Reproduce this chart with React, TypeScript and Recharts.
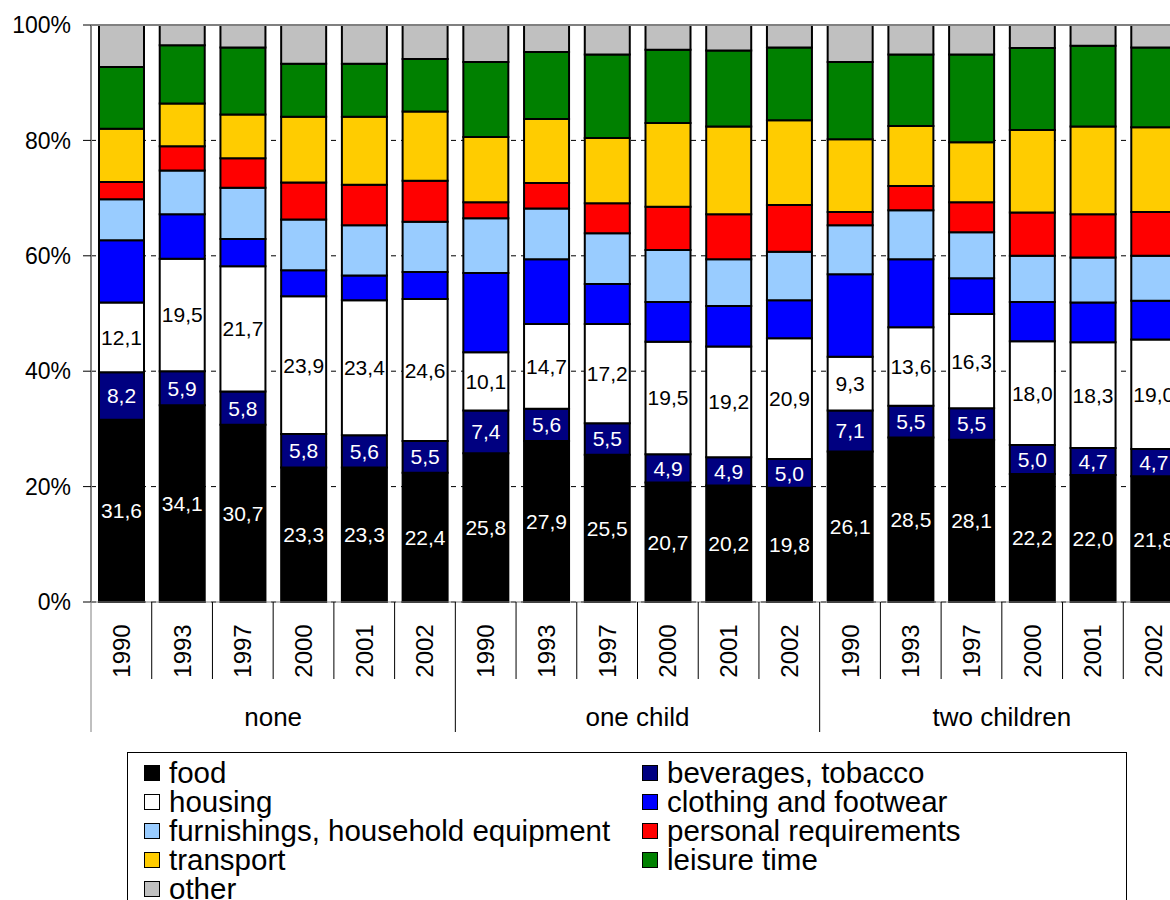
import {
  BarChart,
  Bar,
  XAxis,
  YAxis,
  CartesianGrid,
  LabelList,
  ReferenceLine,
} from "recharts";

const FONT = "'Liberation Sans', Arial, Helvetica, sans-serif";

const years = [
  "1990", "1993", "1997", "2000", "2001", "2002",
  "1990", "1993", "1997", "2000", "2001", "2002",
  "1990", "1993", "1997", "2000", "2001", "2002",
];
const groupNames = ["none", "one child", "two children"];
const yTicks = [0, 0.2, 0.4, 0.6, 0.8, 1];

// shares in % per household type and year
const food = [31.6, 34.1, 30.7, 23.3, 23.3, 22.4, 25.8, 27.9, 25.5, 20.7, 20.2, 19.8, 26.1, 28.5, 28.1, 22.2, 22.0, 21.8];
const beverages = [8.2, 5.9, 5.8, 5.8, 5.6, 5.5, 7.4, 5.6, 5.5, 4.9, 4.9, 5.0, 7.1, 5.5, 5.5, 5.0, 4.7, 4.7];
const housing = [12.1, 19.5, 21.7, 23.9, 23.4, 24.6, 10.1, 14.7, 17.2, 19.5, 19.2, 20.9, 9.3, 13.6, 16.3, 18.0, 18.3, 19.0];
const clothing = [10.8, 7.7, 4.7, 4.5, 4.3, 4.7, 13.7, 11.2, 6.9, 6.9, 7.0, 6.6, 14.3, 11.8, 6.2, 6.8, 6.9, 6.7];
const furnishings = [7.1, 7.6, 8.9, 8.8, 8.7, 8.7, 9.5, 8.8, 8.8, 9.0, 8.1, 8.4, 8.5, 8.5, 8.0, 8.0, 7.8, 7.8];
const personal = [3.0, 4.2, 5.1, 6.4, 7.0, 7.1, 2.8, 4.4, 5.2, 7.5, 7.8, 8.1, 2.3, 4.2, 5.2, 7.5, 7.5, 7.6];
const transport = [9.2, 7.4, 7.6, 11.4, 11.8, 12.0, 11.3, 11.1, 11.3, 14.5, 15.2, 14.7, 12.6, 10.4, 10.4, 14.3, 15.2, 14.7];
const leisure = [10.7, 10.1, 11.6, 9.2, 9.2, 9.1, 13.0, 11.6, 14.5, 12.7, 13.2, 12.6, 13.4, 12.4, 15.2, 14.2, 14.0, 13.8];
const other = [7.3, 3.5, 3.9, 6.7, 6.7, 5.9, 6.4, 4.7, 5.1, 4.3, 4.4, 3.9, 6.4, 5.1, 5.1, 4.0, 3.6, 3.9];

const series = [
  { key: "food", name: "food", color: "#000000", values: food, labelColor: "#ffffff" },
  { key: "beverages", name: "beverages, tobacco", color: "#000080", values: beverages, labelColor: "#ffffff" },
  { key: "housing", name: "housing", color: "#ffffff", values: housing, labelColor: "#000000" },
  { key: "clothing", name: "clothing and footwear", color: "#0000ff", values: clothing, labelColor: null },
  { key: "furnishings", name: "furnishings, household equipment", color: "#99ccff", values: furnishings, labelColor: null },
  { key: "personal", name: "personal requirements", color: "#ff0000", values: personal, labelColor: null },
  { key: "transport", name: "transport", color: "#ffcc00", values: transport, labelColor: null },
  { key: "leisure", name: "leisure time", color: "#008000", values: leisure, labelColor: null },
  { key: "other", name: "other", color: "#c0c0c0", values: other, labelColor: null },
];

const data = years.map((year, i) => {
  const row: Record<string, string | number> = {
    id: `${groupNames[Math.floor(i / 6)]} ${year}`,
    year,
  };
  series.forEach((s) => {
    row[s.key] = s.values[i];
  });
  return row;
});

const CHART_W = 1200;
const CHART_H = 900;
const MARGIN = { top: 25, right: 16, left: 11, bottom: 168 };
const Y_AXIS_W = 80;
const PLOT_W = CHART_W - MARGIN.left - MARGIN.right - Y_AXIS_W;

function YearTick(props: any) {
  const { x, y } = props;
  const i: number = props.index ?? props.payload?.index ?? 0;
  const step = PLOT_W / years.length;
  const left = x - step / 2;
  const groupStart = i % 6 === 0;
  return (
    <g>
      <line
        x1={left}
        x2={left}
        y1={y}
        y2={y + (groupStart ? 130 : 77)}
        stroke={i === 0 ? "#808080" : "#000000"}
        strokeWidth={1}
      />
      <text
        x={x}
        y={y + 49}
        transform={`rotate(-90 ${x} ${y + 49})`}
        textAnchor="middle"
        dominantBaseline="central"
        fontSize={24}
        fontFamily={FONT}
        fill="#000"
      >
        {years[i]}
      </text>
      {groupStart && (
        <text
          x={left + step * 3}
          y={y + 115}
          textAnchor="middle"
          dominantBaseline="central"
          fontSize={26}
          fontFamily={FONT}
          fill="#000"
        >
          {groupNames[i / 6]}
        </text>
      )}
    </g>
  );
}

const fmt = (v: any) => Number(v).toFixed(1).replace(".", ",");

export default function App() {
  return (
    <div
      style={{
        position: "fixed",
        left: 0,
        top: 0,
        width: 1170,
        height: 900,
        overflow: "hidden",
        background: "#fff",
        fontFamily: FONT,
      }}
    >
      <BarChart
        width={CHART_W}
        height={CHART_H}
        data={data}
        margin={MARGIN}
        stackOffset="expand"
        barSize={45}
      >
        <CartesianGrid vertical={false} stroke="#000" strokeDasharray="5 5" />
        <XAxis
          dataKey="id"
          interval={0}
          height={130}
          tickLine={false}
          tickSize={0}
          tickMargin={0}
          axisLine={{ stroke: "#808080" }}
          tick={<YearTick />}
        />
        <YAxis
          type="number"
          domain={[0, 1]}
          ticks={yTicks}
          width={Y_AXIS_W}
          tickFormatter={(v: number) => `${Math.round(v * 100)}%`}
          axisLine={{ stroke: "#808080", strokeWidth: 2 }}
          tickLine={{ stroke: "#000" }}
          tickSize={8}
          tickMargin={12}
          tick={{ fill: "#000", fontSize: 23, fontFamily: FONT }}
        />
        {series.map((s) => (
          <Bar
            key={s.key}
            dataKey={s.key}
            name={s.name}
            stackId="a"
            fill={s.color}
            stroke="#000"
            strokeWidth={2}
            isAnimationActive={false}
          >
            {s.labelColor && (
              <LabelList
                dataKey={s.key}
                position="center"
                fill={s.labelColor}
                stroke="none"
                fontSize={21}
                fontFamily={FONT}
                formatter={fmt}
              />
            )}
          </Bar>
        ))}
        <ReferenceLine y={1} stroke="#808080" strokeWidth={2} />
      </BarChart>

      {/* legend box */}
      <div
        style={{
          position: "absolute",
          left: 127,
          top: 752,
          width: 1000,
          height: 170,
          border: "1px solid #000",
          boxSizing: "border-box",
          padding: "5px 0 0 16px",
          display: "grid",
          gridTemplateColumns: "498px auto",
          gridAutoRows: 29,
        }}
      >
        {series.map((s) => (
          <div
            key={s.key}
            style={{
              display: "flex",
              alignItems: "center",
              fontSize: 29.5,
              color: "#000",
              whiteSpace: "nowrap",
              lineHeight: "29px",
            }}
          >
            <span
              style={{
                display: "inline-block",
                width: 14,
                height: 14,
                border: "1.5px solid #000",
                background: s.color,
                marginRight: 9,
                flexShrink: 0,
              }}
            />
            {s.name}
          </div>
        ))}
      </div>
    </div>
  );
}
